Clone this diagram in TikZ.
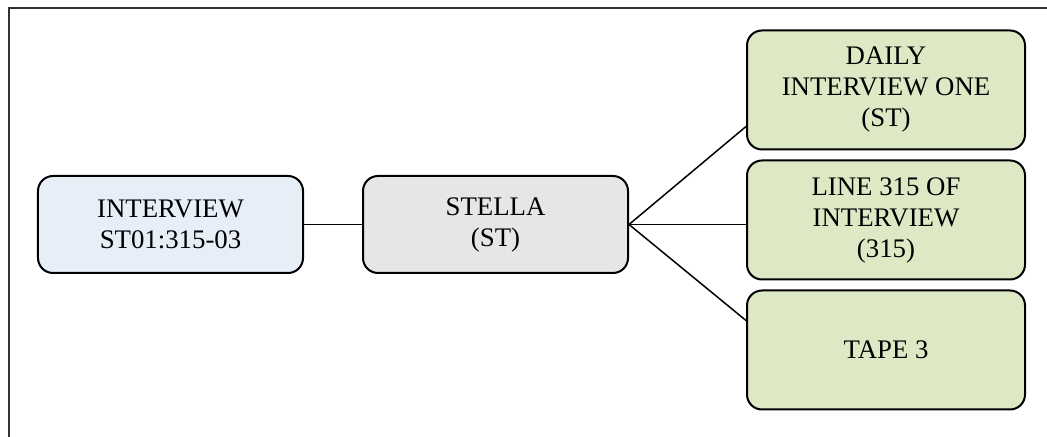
\documentclass[tikz,border=0pt]{standalone}
\usepackage{fontspec}
\setmainfont{Liberation Serif}
\usepackage{tikz}
\usetikzlibrary{positioning}

\definecolor{srcblue}{RGB}{230,238,248}
\definecolor{persgray}{RGB}{230,230,230}
\definecolor{refgreen}{RGB}{220,233,196}

\begin{document}
\begin{tikzpicture}[node distance=29pt,
	box/.style={draw, line width=1pt, rounded corners=7.5pt, align=center,
		font=\fontsize{13.4pt}{15.5pt}\selectfont, inner sep=2pt},
	mainbox/.style={box, minimum width=132.5pt, minimum height=48.5pt},
	refbox/.style={box, fill=refgreen, minimum width=139pt, minimum height=59.5pt},
	link/.style={line width=0.75pt}]
	\useasboundingbox (-85.25pt,-106.25pt) rectangle (438.25pt,112.25pt);
	\draw[line width=1pt, black!80] (-80.75pt,-110pt) -- (-80.75pt,108.25pt) -- (440pt,108.25pt);
               \node[mainbox, fill=srcblue] (interview) {INTERVIEW\\ST01:315-03};
               \node[mainbox, fill=persgray] (stella) [right=of interview] {STELLA\\(ST)};
               \node[refbox] (line) [right=58.5pt of stella, yshift=2.25pt] {LINE 315 OF\\INTERVIEW\\(315)};
               \node[refbox] (daily) [above=4.5pt of line] {DAILY\\INTERVIEW ONE\\(ST)};
               \node[refbox] (tape) [below=4.5pt of line] {TAPE 3};
		\path[link]
			(interview)	edge (stella)
			(stella.east)	edge ([yshift=12pt]daily.south west)
					edge (stella.east -| line.west)
					edge ([yshift=-15.5pt]tape.north west);
            \end{tikzpicture}
\end{document}
